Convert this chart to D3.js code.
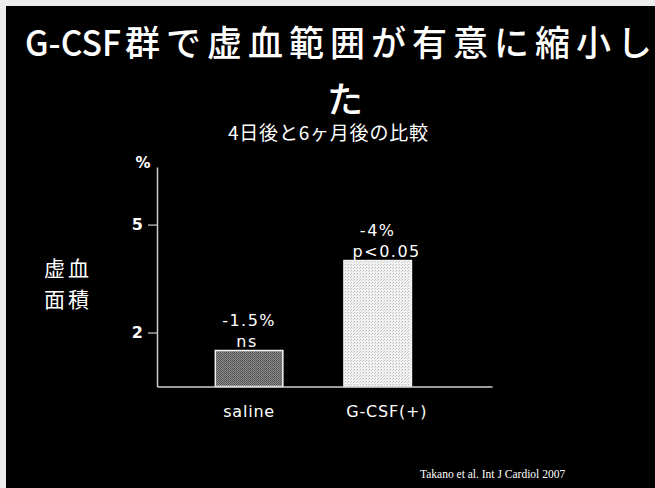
<!DOCTYPE html>
<html>
<head>
<meta charset="utf-8">
<script src="https://cdn.jsdelivr.net/npm/d3@7"></script>
<style>
  html, body { margin: 0; padding: 0; background: #000; }
  svg { display: block; }
</style>
</head>
<body>
<script>
// Ischemic area reduction, 4 days vs 6 months
const categories = ["saline", "G-CSF(+)"];
const reductions = [1.5, 4];           // magnitude of reduction in ischemic area (%)
const changeLabels = ["-1.5%", "-4%"];
const sigLabels = ["ns", "p<0.05"];
const yTicks = [2, 5];

const W = 655, H = 488;
const svg = d3.select("body").append("svg").attr("width", W).attr("height", H);

svg.append("rect").attr("width", W).attr("height", H).attr("fill", "#000");
// slide frame edges
svg.append("rect").attr("x", 0).attr("y", 0).attr("width", W).attr("height", 6).attr("fill", "#ededed");
svg.append("rect").attr("x", 0).attr("y", 0).attr("width", 6).attr("height", H).attr("fill", "#ededed");

const jp = "'Noto Sans CJK JP', 'Noto Sans', sans-serif";
const latin = "'DejaVu Sans', 'Noto Sans', sans-serif";

// title (Latin and Japanese runs set separately so each keeps its own spacing)
svg.append("text")
  .attr("x", 25).attr("y", 56)
  .attr("textLength", 96).attr("lengthAdjust", "spacingAndGlyphs")
  .attr("fill", "#fff").attr("font-family", jp).attr("font-size", 35).attr("font-weight", 500)
  .text("G-CSF");
svg.append("text")
  .attr("x", 125).attr("y", 56)
  .attr("textLength", 527).attr("lengthAdjust", "spacing")
  .attr("fill", "#fff").attr("font-family", jp).attr("font-size", 35).attr("font-weight", 500)
  .text("群で虚血範囲が有意に縮小し");
svg.append("text")
  .attr("x", 345).attr("y", 113).attr("text-anchor", "middle")
  .attr("fill", "#fff").attr("font-family", jp).attr("font-size", 36).attr("font-weight", 500)
  .text("た");
svg.append("text")
  .attr("x", 228).attr("y", 140)
  .attr("textLength", 200).attr("lengthAdjust", "spacing")
  .attr("fill", "#fff").attr("font-family", jp).attr("font-size", 19)
  .text("4日後と6ヶ月後の比較");

// y-axis title
const yTitle = svg.append("text")
  .attr("fill", "#fff").attr("font-family", jp).attr("font-size", 21)
  .attr("text-anchor", "middle").attr("letter-spacing", 3);
yTitle.append("tspan").attr("x", 68).attr("y", 276).text("虚血");
yTitle.append("tspan").attr("x", 68).attr("y", 307).text("面積");

// scales
const x = d3.scaleBand()
  .domain(categories)
  .range([157, 492])
  .paddingInner(0.475)
  .paddingOuter(0.54)
  .align(0.42);

const y = d3.scaleLinear()
  .domain([0.5, 6.6])
  .range([386.5, 167]);

// bar textures
const defs = svg.append("defs");
const pDark = defs.append("pattern").attr("id", "stippleDark")
  .attr("width", 2).attr("height", 2).attr("patternUnits", "userSpaceOnUse");
pDark.append("rect").attr("width", 2).attr("height", 2).attr("fill", "#8c8c8c");
pDark.append("rect").attr("width", 1).attr("height", 1).attr("fill", "#4e4e4e");
pDark.append("rect").attr("x", 1).attr("y", 1).attr("width", 1).attr("height", 1).attr("fill", "#5e5e5e");

const pLight = defs.append("pattern").attr("id", "stippleLight")
  .attr("width", 3).attr("height", 3).attr("patternUnits", "userSpaceOnUse");
pLight.append("rect").attr("width", 3).attr("height", 3).attr("fill", "#f2f2f2");
pLight.append("rect").attr("width", 1).attr("height", 1).attr("fill", "#b8b8b8");
pLight.append("rect").attr("x", 2).attr("y", 1).attr("width", 1).attr("height", 1).attr("fill", "#cfcfcf");

const fills = ["url(#stippleDark)", "url(#stippleLight)"];

// bars
svg.append("g").selectAll("rect")
  .data(reductions)
  .join("rect")
  .attr("x", (d, i) => x(categories[i]))
  .attr("width", x.bandwidth())
  .attr("y", d => y(d))
  .attr("height", d => y(0.5) - y(d))
  .attr("fill", (d, i) => fills[i])
  .attr("stroke", "#f4f4f4")
  .attr("stroke-width", 1.5);

// axes
const yAxis = svg.append("g")
  .attr("transform", "translate(157,0)")
  .call(d3.axisLeft(y).tickValues(yTicks).tickSize(9).tickSizeOuter(0).tickPadding(5).tickFormat(d3.format("d")));
const xAxis = svg.append("g")
  .attr("transform", `translate(0,${y(0.5)})`)
  .call(d3.axisBottom(x).tickSize(0).tickPadding(19));

[yAxis, xAxis].forEach(g => {
  g.select(".domain").attr("stroke", "#cfcfcf").attr("stroke-width", 1.5);
  g.selectAll(".tick line").attr("stroke", "#cfcfcf").attr("stroke-width", 1.2);
  g.selectAll(".tick text").attr("fill", "#fff").attr("font-family", latin);
});
yAxis.selectAll(".tick text").attr("font-size", 16).attr("font-weight", "bold");
xAxis.selectAll(".tick text").attr("font-size", 16).attr("letter-spacing", 0.8);
xAxis.selectAll(".tick text").filter(d => d === "G-CSF(+)").attr("dx", 9);

// unit label
svg.append("text")
  .attr("x", 143).attr("y", 168).attr("text-anchor", "middle")
  .attr("fill", "#fff").attr("font-family", latin).attr("font-size", 15).attr("font-weight", "bold")
  .text("%");

// value annotations above bars
const ann = svg.append("g").attr("fill", "#fff").attr("font-family", latin)
  .attr("font-size", 16).attr("text-anchor", "middle").attr("letter-spacing", 1.5);
ann.selectAll("text.change")
  .data(reductions)
  .join("text").attr("class", "change")
  .attr("x", (d, i) => x(categories[i]) + x.bandwidth() / 2)
  .attr("y", d => y(d) - 25)
  .text((d, i) => changeLabels[i]);
ann.selectAll("text.sig")
  .data(reductions)
  .join("text").attr("class", "sig")
  .attr("x", (d, i) => x(categories[i]) + x.bandwidth() / 2 + (i === 1 ? 9 : -2))
  .attr("y", d => y(d) - 4)
  .text((d, i) => sigLabels[i]);

// source
svg.append("text")
  .attr("x", 420).attr("y", 478)
  .attr("fill", "#fff").attr("font-family", "'Liberation Serif', 'DejaVu Serif', serif").attr("font-size", 11.5)
  .text("Takano et al. Int J Cardiol 2007");
</script>
</body>
</html>
